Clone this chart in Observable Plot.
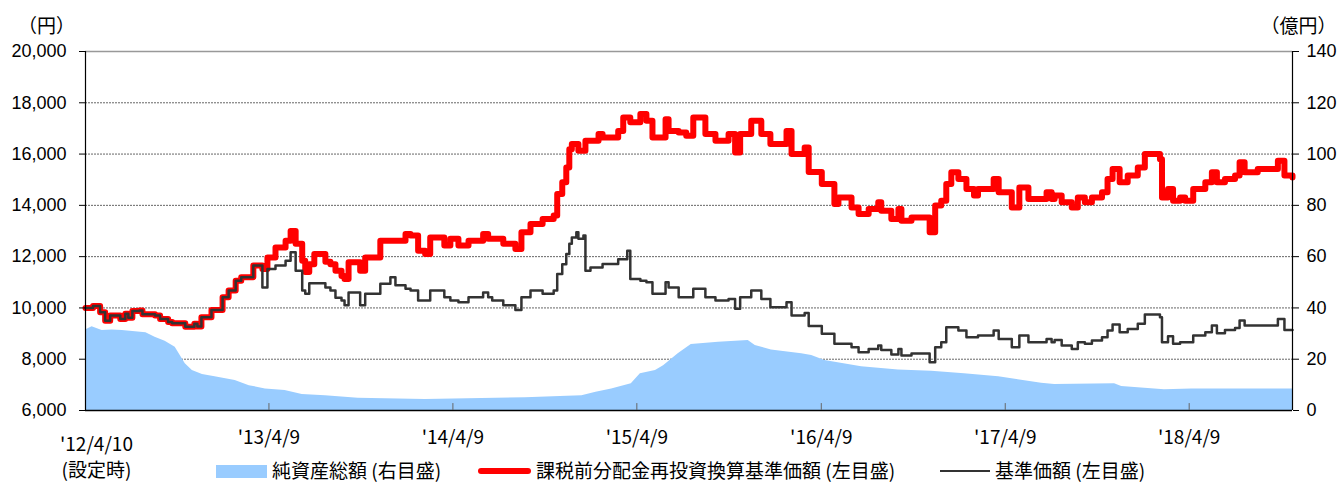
<!DOCTYPE html>
<html>
<head>
<meta charset="utf-8">
<script src="https://cdn.jsdelivr.net/npm/d3@7"></script>
<script src="https://cdn.jsdelivr.net/npm/@observablehq/plot@0.6"></script>
<style>
  html, body { margin: 0; padding: 0; background: #fff; }
  #wrap { position: relative; width: 1337px; height: 482px; overflow: hidden; }
  .lg { position: absolute; font-family: "Noto Sans CJK JP", sans-serif; font-size: 19px; line-height: 22px; color: #000; white-space: nowrap; }
  .sw { position: absolute; }
</style>
</head>
<body>
<div id="wrap"></div>
<script>
// ---- data ----
const navDates = [
"2012-04-10","2012-04-25","2012-05-09","2012-05-19","2012-05-29","2012-06-18","2012-06-28","2012-07-04","2012-07-12","2012-07-26",
"2012-08-01","2012-08-26","2012-09-05","2012-09-21","2012-09-29","2012-10-25","2012-11-12","2012-11-18","2012-11-26","2012-12-16",
"2013-01-07","2013-01-19","2013-02-02","2013-02-13","2013-03-09","2013-03-27","2013-04-06","2013-04-22","2013-05-12","2013-05-22",
"2013-06-01","2013-06-14","2013-06-20","2013-06-28","2013-07-08","2013-07-30","2013-08-09","2013-08-19","2013-08-31","2013-09-06",
"2013-09-14","2013-10-07","2013-10-17","2013-11-16","2013-12-06","2013-12-16","2014-01-05","2014-01-15","2014-01-30","2014-02-13",
"2014-02-23","2014-03-23","2014-04-04","2014-04-20","2014-05-10","2014-06-08","2014-06-18","2014-06-26","2014-07-18","2014-08-11",
"2014-08-23","2014-09-10","2014-10-04","2014-10-26","2014-11-02","2014-11-12","2014-11-20","2014-11-26","2014-12-01","2014-12-10",
"2014-12-14","2014-12-24","2014-12-28","2015-01-07","2015-01-23","2015-01-31","2015-03-03","2015-03-13","2015-03-21","2015-03-27",
"2015-04-16","2015-04-28","2015-05-10","2015-06-05","2015-06-11","2015-07-01","2015-07-16","2015-07-30","2015-08-23","2015-09-12",
"2015-10-08","2015-10-21","2015-10-31","2015-11-22","2015-12-12","2015-12-30","2016-01-31","2016-02-10","2016-03-07","2016-03-15",
"2016-04-10","2016-05-05","2016-05-13","2016-06-08","2016-06-22","2016-07-12","2016-07-31","2016-08-06","2016-08-26","2016-09-09",
"2016-09-15","2016-10-05","2016-11-10","2016-11-21","2016-12-03","2016-12-13","2016-12-23","2017-01-06","2017-01-22","2017-02-06",
"2017-02-14","2017-03-17","2017-03-27","2017-04-22","2017-05-07","2017-05-25","2017-06-30","2017-07-10","2017-07-16","2017-07-30",
"2017-08-19","2017-08-31","2017-09-14","2017-09-28","2017-10-18","2017-10-29","2017-11-08","2017-11-22","2017-12-08","2017-12-28",
"2018-01-11","2018-02-10","2018-02-14","2018-02-26","2018-03-08","2018-03-22","2018-04-01","2018-04-17","2018-05-11","2018-05-24",
"2018-06-03","2018-06-19","2018-07-09","2018-07-18","2018-07-28","2018-08-23","2018-10-02","2018-10-15","2018-10-31"
];
// 課税前分配金再投資換算基準価額 (円)
const reinvested = [
10000,10080,9830,9500,9700,9570,9770,9620,9880,9900,
9750,9700,9570,9450,9400,9270,9380,9280,9640,9920,
10420,10680,11060,11200,11650,11520,11970,12360,12620,13000,
12500,11840,11400,11700,12100,11800,11700,11450,11250,11130,
11780,11450,11970,12620,12620,12620,12880,12820,12230,12100,
12750,12430,12700,12430,12620,12880,12700,12700,12500,12300,
12950,13270,13470,13600,14440,14900,15480,16190,16390,16390,
16130,16130,16520,16520,16780,16650,16900,17430,17430,17240,
17560,17300,16650,17360,16900,16840,16710,17430,16780,16520,
16780,16060,16780,17300,16780,16390,16900,16000,16260,15300,
14830,14050,14310,13920,13660,13860,14120,13790,13470,13860,
13400,13530,12950,13990,14180,14830,15290,15030,14640,14380,
14640,15030,14510,13920,14700,14250,14510,14250,14380,14120,
13920,14310,14120,14310,14510,15030,15420,14900,15160,15480,
16000,15800,14310,14640,14180,14310,14180,14640,14900,15290,
14900,15030,15160,15680,15290,15420,15740,15160,15090
];
// 基準価額 (円)
const nav = [
10000,10080,9830,9500,9700,9570,9770,9620,9880,9900,
9750,9700,9570,9450,9400,9270,9380,9280,9640,9920,
10420,10680,11060,11200,11650,10800,11520,11650,11840,12170,
11450,10680,10550,10960,10960,10800,10680,10400,10290,10100,
10600,10100,10550,10940,11200,10880,10750,10680,10290,10290,
10680,10420,10290,10220,10420,10600,10420,10290,10100,9920,
10420,10680,10550,10680,11320,11700,12100,12500,12750,12950,
12700,12820,11450,11580,11580,11710,11900,11900,12230,11130,
11060,11000,10550,11000,10800,10420,10420,10750,10420,10290,
10350,9970,10420,10680,10350,10030,10220,9700,9800,9300,
8990,8600,8600,8470,8270,8400,8530,8360,8180,8400,
8140,8220,7880,8470,8660,9250,9250,9120,8860,8860,
8920,9120,8790,8470,8920,8660,8790,8660,8750,8530,
8400,8660,8600,8730,8860,9120,9350,9050,9180,9380,
9740,9640,8660,8900,8600,8660,8660,8920,9050,9310,
9010,9140,9220,9510,9310,9310,9570,9140,9140
];
// 純資産総額 (億円)
const assetDates = [
"2012-04-10","2012-04-23","2012-05-13","2012-06-02","2012-06-22","2012-08-08","2012-08-26","2012-09-15","2012-10-05","2012-10-15",
"2012-10-25","2012-11-08","2012-11-28","2012-12-23","2013-02-01","2013-03-01","2013-04-02","2013-05-11","2013-06-14","2013-07-30",
"2013-10-03","2014-02-13","2014-08-31","2014-11-08","2014-12-21","2015-01-18","2015-02-18","2015-03-29","2015-04-16","2015-05-16",
"2015-06-01","2015-06-30","2015-07-26","2015-09-18","2015-11-16","2015-11-30","2016-01-01","2016-03-01","2016-03-21","2016-04-16",
"2016-06-28","2016-09-09","2016-11-14","2017-01-18","2017-03-27","2017-06-20","2017-07-16","2017-11-12","2017-11-26","2018-02-19",
"2018-04-14","2018-10-31"
];
const assets = [
31.4,32.7,31.2,31.4,31.2,30.3,28.6,27.0,24.7,21.4,
18.2,15.6,14.0,13.2,11.7,9.7,8.4,7.8,6.2,5.8,
4.8,4.3,5.0,5.5,5.8,7.1,8.4,10.4,14.3,15.6,
17.5,22.1,25.7,26.6,27.3,25.3,23.6,22.1,21.4,19.5,
17.1,15.8,15.3,14.3,13.2,10.6,10.1,10.4,9.4,8.1,
8.4,8.4
];
const leftTicks = [6000, 8000, 10000, 12000, 14000, 16000, 18000, 20000];
const rightTicks = [0, 20, 40, 60, 80, 100, 120, 140];
const xTickDates = ["2013-04-09","2014-04-09","2015-04-09","2016-04-09","2017-04-09","2018-04-09"];
const xTickLabels = ["'13/4/9","'14/4/9","'15/4/9","'16/4/9","'17/4/9","'18/4/9"];
const startLabel = "'12/4/10\n(設定時)";
const legendLabels = ["純資産総額 (右目盛)", "課税前分配金再投資換算基準価額 (左目盛)", "基準価額 (左目盛)"];

// ---- build tables ----
const startDate = new Date(navDates[0]);
const endDate = new Date(navDates[navDates.length - 1]);
const lines = navDates.map((d, i) => ({date: new Date(d), reinv: reinvested[i], nav: nav[i]}));
// right axis (0–140 億円) mapped onto the left scale (6,000–20,000 円)
const rMax = rightTicks[rightTicks.length - 1];
const rightToLeft = v => 6000 + v * (20000 - 6000) / rMax;
const leftToRight = y => Math.round((y - 6000) * rMax / (20000 - 6000));
const assetRows = assetDates.map((d, i) => ({date: new Date(d), v: assets[i]}));
const tickDates = xTickDates.map(d => new Date(d));
const labelOf = new Map(tickDates.map((d, i) => [+d, xTickLabels[i]]));
const cjk = "'Noto Sans CJK JP', sans-serif";
const latin = "'Liberation Sans', Arial, sans-serif";

const chart = Plot.plot({
  width: 1337,
  height: 482,
  marginLeft: 85,
  marginRight: 45,
  marginTop: 51,
  marginBottom: 72,
  style: {fontFamily: latin, fontSize: "18px", color: "#000", background: "#fff", overflow: "visible"},
  x: {type: "utc", domain: [startDate, endDate]},
  y: {domain: [6000, 20000]},
  marks: [
    Plot.ruleY(leftTicks.filter(t => t > 6000 && t < 20000), {stroke: "#666", strokeDasharray: "2,1", strokeWidth: 1}),
    Plot.ruleY([20000], {stroke: "#999", strokeWidth: 1.5}),
    Plot.areaY(assetRows, {x: "date", y1: 6000, y2: d => rightToLeft(d.v), curve: "linear", fill: "#99CCFF"}),
    Plot.lineY(lines, {x: "date", y: "reinv", stroke: "#FF0000", strokeWidth: 6, curve: "step-after"}),
    Plot.lineY(lines, {x: "date", y: "nav", stroke: "#333333", strokeWidth: 2.5, curve: "step-after"}),
    Plot.ruleX([startDate, endDate], {stroke: "#000", strokeWidth: 1.2}),
    Plot.ruleY([6000], {stroke: "#000", strokeWidth: 1.5}),
    Plot.ruleX(tickDates, {y1: 6000, y2: 6270, stroke: "#666", strokeWidth: 1}),
    Plot.axisY(leftTicks, {anchor: "left", tickSize: 6, tickPadding: 13, tickFormat: d3.format(","), label: null, fontSize: 18, fontFamily: latin}),
    Plot.axisY(leftTicks, {anchor: "right", tickSize: 6, tickPadding: 8, tickFormat: leftToRight, label: null, fontSize: 18, fontFamily: latin}),
    Plot.axisX(tickDates, {anchor: "bottom", tickSize: 0, tickPadding: 20, tickFormat: d => labelOf.get(+d), label: null, fontSize: 19, fontFamily: cjk}),
    Plot.text([startDate], {x: d => d, frameAnchor: "bottom", dx: 11, dy: 22, lineAnchor: "top", lineHeight: 1.37, text: () => startLabel, fontSize: 19, fontFamily: cjk}),
    Plot.text(["（円）"], {frameAnchor: "top-left", dx: -39, dy: -32, text: d => d, textAnchor: "middle", fontSize: 19, fontFamily: cjk}),
    Plot.text(["（億円）"], {frameAnchor: "top-right", dx: 44, dy: -32, text: d => d, textAnchor: "end", fontSize: 19, fontFamily: cjk})
  ]
});
const wrap = document.getElementById("wrap");
wrap.appendChild(chart);

// legend below the plot area
function addSwatch(left, top, w, h, color, radius) {
  const s = document.createElement("div");
  s.className = "sw";
  s.style.cssText = `left:${left}px;top:${top}px;width:${w}px;height:${h}px;background:${color};border-radius:${radius}px;`;
  wrap.appendChild(s);
}
function addLabel(left, text) {
  const t = document.createElement("div");
  t.className = "lg";
  t.style.left = left + "px";
  t.style.top = "459px";
  t.textContent = text;
  wrap.appendChild(t);
}
addSwatch(216, 465, 51, 13, "#99CCFF", 0);
addLabel(272, legendLabels[0]);
addSwatch(478, 468, 53, 6, "#FF0000", 3);
addLabel(536, legendLabels[1]);
addSwatch(940, 470, 50, 2, "#333333", 0);
addLabel(995, legendLabels[2]);
</script>
</body>
</html>
